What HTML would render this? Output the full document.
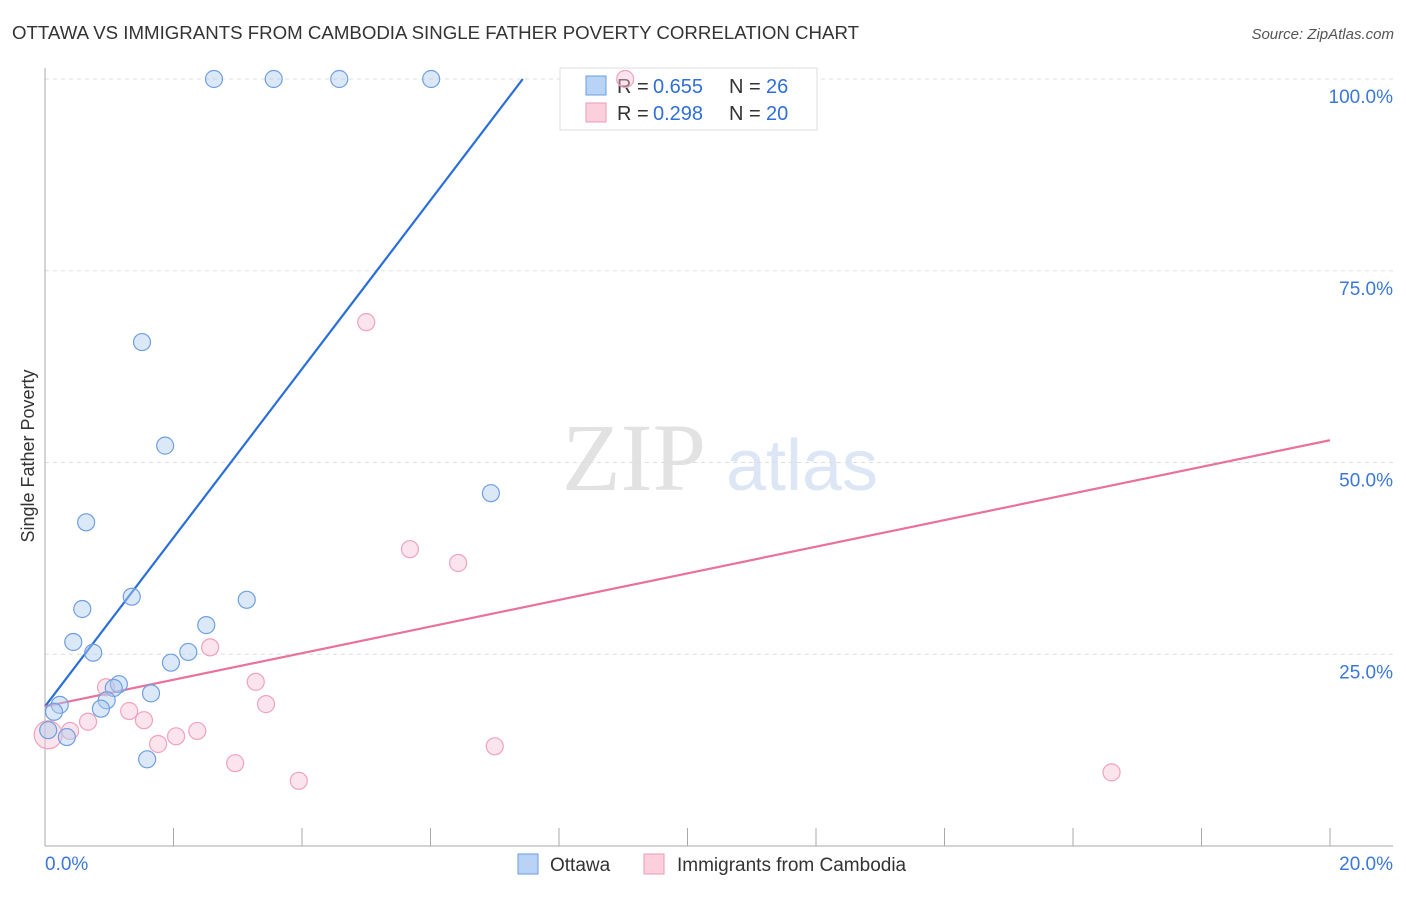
<!DOCTYPE html>
<html><head><meta charset="utf-8"><style>
body{margin:0;background:#fff;font-family:"Liberation Sans",sans-serif}
</style></head><body>
<svg id="c" width="1406" height="892" viewBox="0 0 1406 892" xmlns="http://www.w3.org/2000/svg" font-family="Liberation Sans, sans-serif">
<text x="12" y="39" font-size="18" fill="#333" textLength="847" lengthAdjust="spacingAndGlyphs">OTTAWA VS IMMIGRANTS FROM CAMBODIA SINGLE FATHER POVERTY CORRELATION CHART</text>
<text x="1394" y="39" font-size="15" fill="#555" font-style="italic" text-anchor="end">Source: ZipAtlas.com</text>
<text x="634" y="490" font-size="96" fill="#e2e2e2" style="font-family:'Liberation Serif',serif" text-anchor="middle">ZIP</text>
<text x="802" y="490" font-size="72" fill="#dce6f5" text-anchor="middle">atlas</text>
<text transform="translate(34,456) rotate(-90)" font-size="18" fill="#333" text-anchor="middle">Single Father Poverty</text>
<g id="grid"></g><g id="axes"></g><g id="lines"></g>
<g>
<rect x="560" y="68" width="257" height="62" fill="#fff" stroke="#ddd"/>
<rect x="586" y="76" width="20" height="19" fill="#b8d3f5" stroke="#6a9de0"/>
<rect x="586" y="103" width="20" height="19" fill="#fbcfdc" stroke="#ef9ab4"/>
<text x="617" y="93" font-size="20" fill="#333">R =</text>
<text x="653" y="93" font-size="20" fill="#2f6fd6">0.655</text>
<text x="729" y="93" font-size="20" fill="#333">N =</text>
<text x="766" y="93" font-size="20" fill="#2f6fd6">26</text>
<text x="617" y="120" font-size="20" fill="#333">R =</text>
<text x="653" y="120" font-size="20" fill="#2f6fd6">0.298</text>
<text x="729" y="120" font-size="20" fill="#333">N =</text>
<text x="766" y="120" font-size="20" fill="#2f6fd6">20</text>
</g>
<g id="pts"></g>
<g>
<rect x="518" y="854" width="20" height="20" fill="#b8d3f5" stroke="#6a9de0"/>
<text x="550" y="871" font-size="19" fill="#333">Ottawa</text>
<rect x="644" y="854" width="20" height="20" fill="#fbcfdc" stroke="#ef9ab4"/>
<text x="677" y="871" font-size="19" fill="#333">Immigrants from Cambodia</text>
</g>
</svg>
<script>
const yTicks=[25,50,75,100];
const xTickLabels=["0.0%","20.0%"];
const ottawaX=[2.63,3.56,4.58,6.01,1.51,1.87,0.64,6.94,0.58,1.35,3.14,0.44,0.75,2.51,2.23,1.96,1.15,1.07,1.65,0.96,0.87,0.23,0.14,0.34,0.05,1.59];
const ottawaY=[100,100,100,100,65.7,52.2,42.2,46.0,30.9,32.5,32.1,26.6,25.2,28.8,25.3,23.9,21.1,20.6,19.9,19.0,17.9,18.4,17.5,14.2,15.1,11.3];
const cambX=[5.0,5.68,6.43,2.57,3.28,3.44,0.95,1.31,1.54,0.67,0.39,2.37,2.04,1.76,7.0,2.96,3.95,16.6,0.05,9.03];
const cambY=[68.3,38.7,36.9,25.9,21.4,18.5,20.7,17.6,16.4,16.2,15.0,15.0,14.3,13.3,13.0,10.8,8.5,9.6,14.5,100];
const ottawaTrend=[18.2,11.0];
const cambTrend=[18.2,1.735];
const X=v=>45+v/20*1285, Y=v=>846-v/100*767;
const NS="http://www.w3.org/2000/svg";
function mk(p,t,a){const e=document.createElementNS(NS,t);for(const k in a)e.setAttribute(k,a[k]);document.getElementById(p).appendChild(e);return e;}
yTicks.forEach(t=>{
const g=mk('grid','line',{x1:45,x2:1393,y1:Y(t),y2:Y(t),stroke:'#ddd','stroke-dasharray':'4,4'});


const l=mk('grid','text',{x:1393,y:Y(t)+24,'font-size':19,fill:'#3b78d8','text-anchor':'end'});
l.textContent=t.toFixed(1)+'%';


});
let a=mk('axes','line',{x1:45,x2:45,y1:68,y2:846,stroke:'#aaa'});


a=mk('axes','line',{x1:45,x2:1393,y1:846,y2:846,stroke:'#aaa'});


for(let i=1;i<=10;i++){const t=mk('axes','line',{x1:X(i*2),x2:X(i*2),y1:828,y2:846,stroke:'#aaa'});

}
[[0,'start',45],[1,'end',1393]].forEach(([i,an,x])=>{const l=mk('axes','text',{x:x,y:870,'font-size':19,fill:'#3b78d8','text-anchor':an});l.textContent=xTickLabels[i];

});
let xe=Math.min(20,(100-ottawaTrend[0])/ottawaTrend[1]);
let tl=mk('lines','line',{x1:X(0),y1:Y(ottawaTrend[0]),x2:X(xe),y2:Y(ottawaTrend[0]+ottawaTrend[1]*xe),stroke:'#2a6fd8','stroke-width':2.2});


tl=mk('lines','line',{x1:X(0),y1:Y(cambTrend[0]),x2:X(20),y2:Y(cambTrend[0]+cambTrend[1]*20),stroke:'#e8729a','stroke-width':2.2});


cambX.forEach((x,i)=>{const c=mk('pts','circle',{cx:X(x),cy:Y(cambY[i]),r:i==18?14:8.5,fill:'rgba(248,195,212,0.45)',stroke:'#f0a3bb','stroke-width':1.2});

});
ottawaX.forEach((x,i)=>{const c=mk('pts','circle',{cx:X(x),cy:Y(ottawaY[i]),r:8.5,fill:'rgba(175,203,240,0.45)',stroke:'#6f9fe0','stroke-width':1.2});

});
</script>
</body></html>
